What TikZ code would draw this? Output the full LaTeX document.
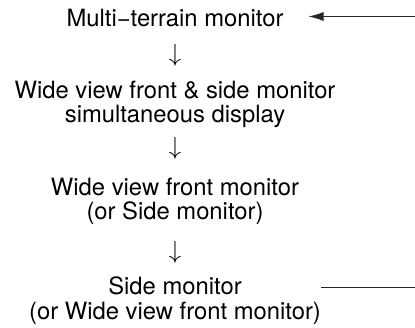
\documentclass[tikz,border=0pt]{standalone}
\usepackage{fontspec}
\setmainfont{TeX Gyre Heros}
\usepackage{tikz}
\usetikzlibrary{arrows.meta,positioning,calc}

\begin{document}
\begin{tikzpicture}[
  x=1pt, y=1pt,
  stage/.style={align=center, inner sep=0pt, anchor=base, font=\fontsize{23.8}{25}\selectfont},
  down/.style={inner sep=0pt, font=\fontsize{23.8}{25}\selectfont},
  feed/.style={line width=0.8pt, draw=black!85},
  arrow/.style={feed, -{Latex[length=15pt, width=9pt]}}
]
\useasboundingbox (0,0) rectangle (415,327);
\coordinate (rim) at (415,0);
% base anchor sits on the last line of each stage
\node[stage] (mtm) at (175,300) {Multi−terrain monitor};
\node[down] (d1) at (175,272) {$\downarrow$};
\node[stage] (both) at (175,204) {Wide view front \& side monitor\\simultaneous display};
\node[down] (d2) at (175,179) {$\downarrow$};
\node[stage] (front) at (175,107) {Wide view front monitor\\(or Side monitor)};
\node[down] (d3) at (175,75) {$\downarrow$};
\node[stage] (side) at (175,8) {Side monitor\\(or Wide view front monitor)};
\draw[arrow, shorten >=25pt] ([yshift=2pt]mtm.east -| rim) -- ([yshift=2pt]mtm.east);
\draw[feed] ([yshift=-11pt]side.north east) -- ([yshift=-11pt]side.north east -| rim);
\end{tikzpicture}
\end{document}
